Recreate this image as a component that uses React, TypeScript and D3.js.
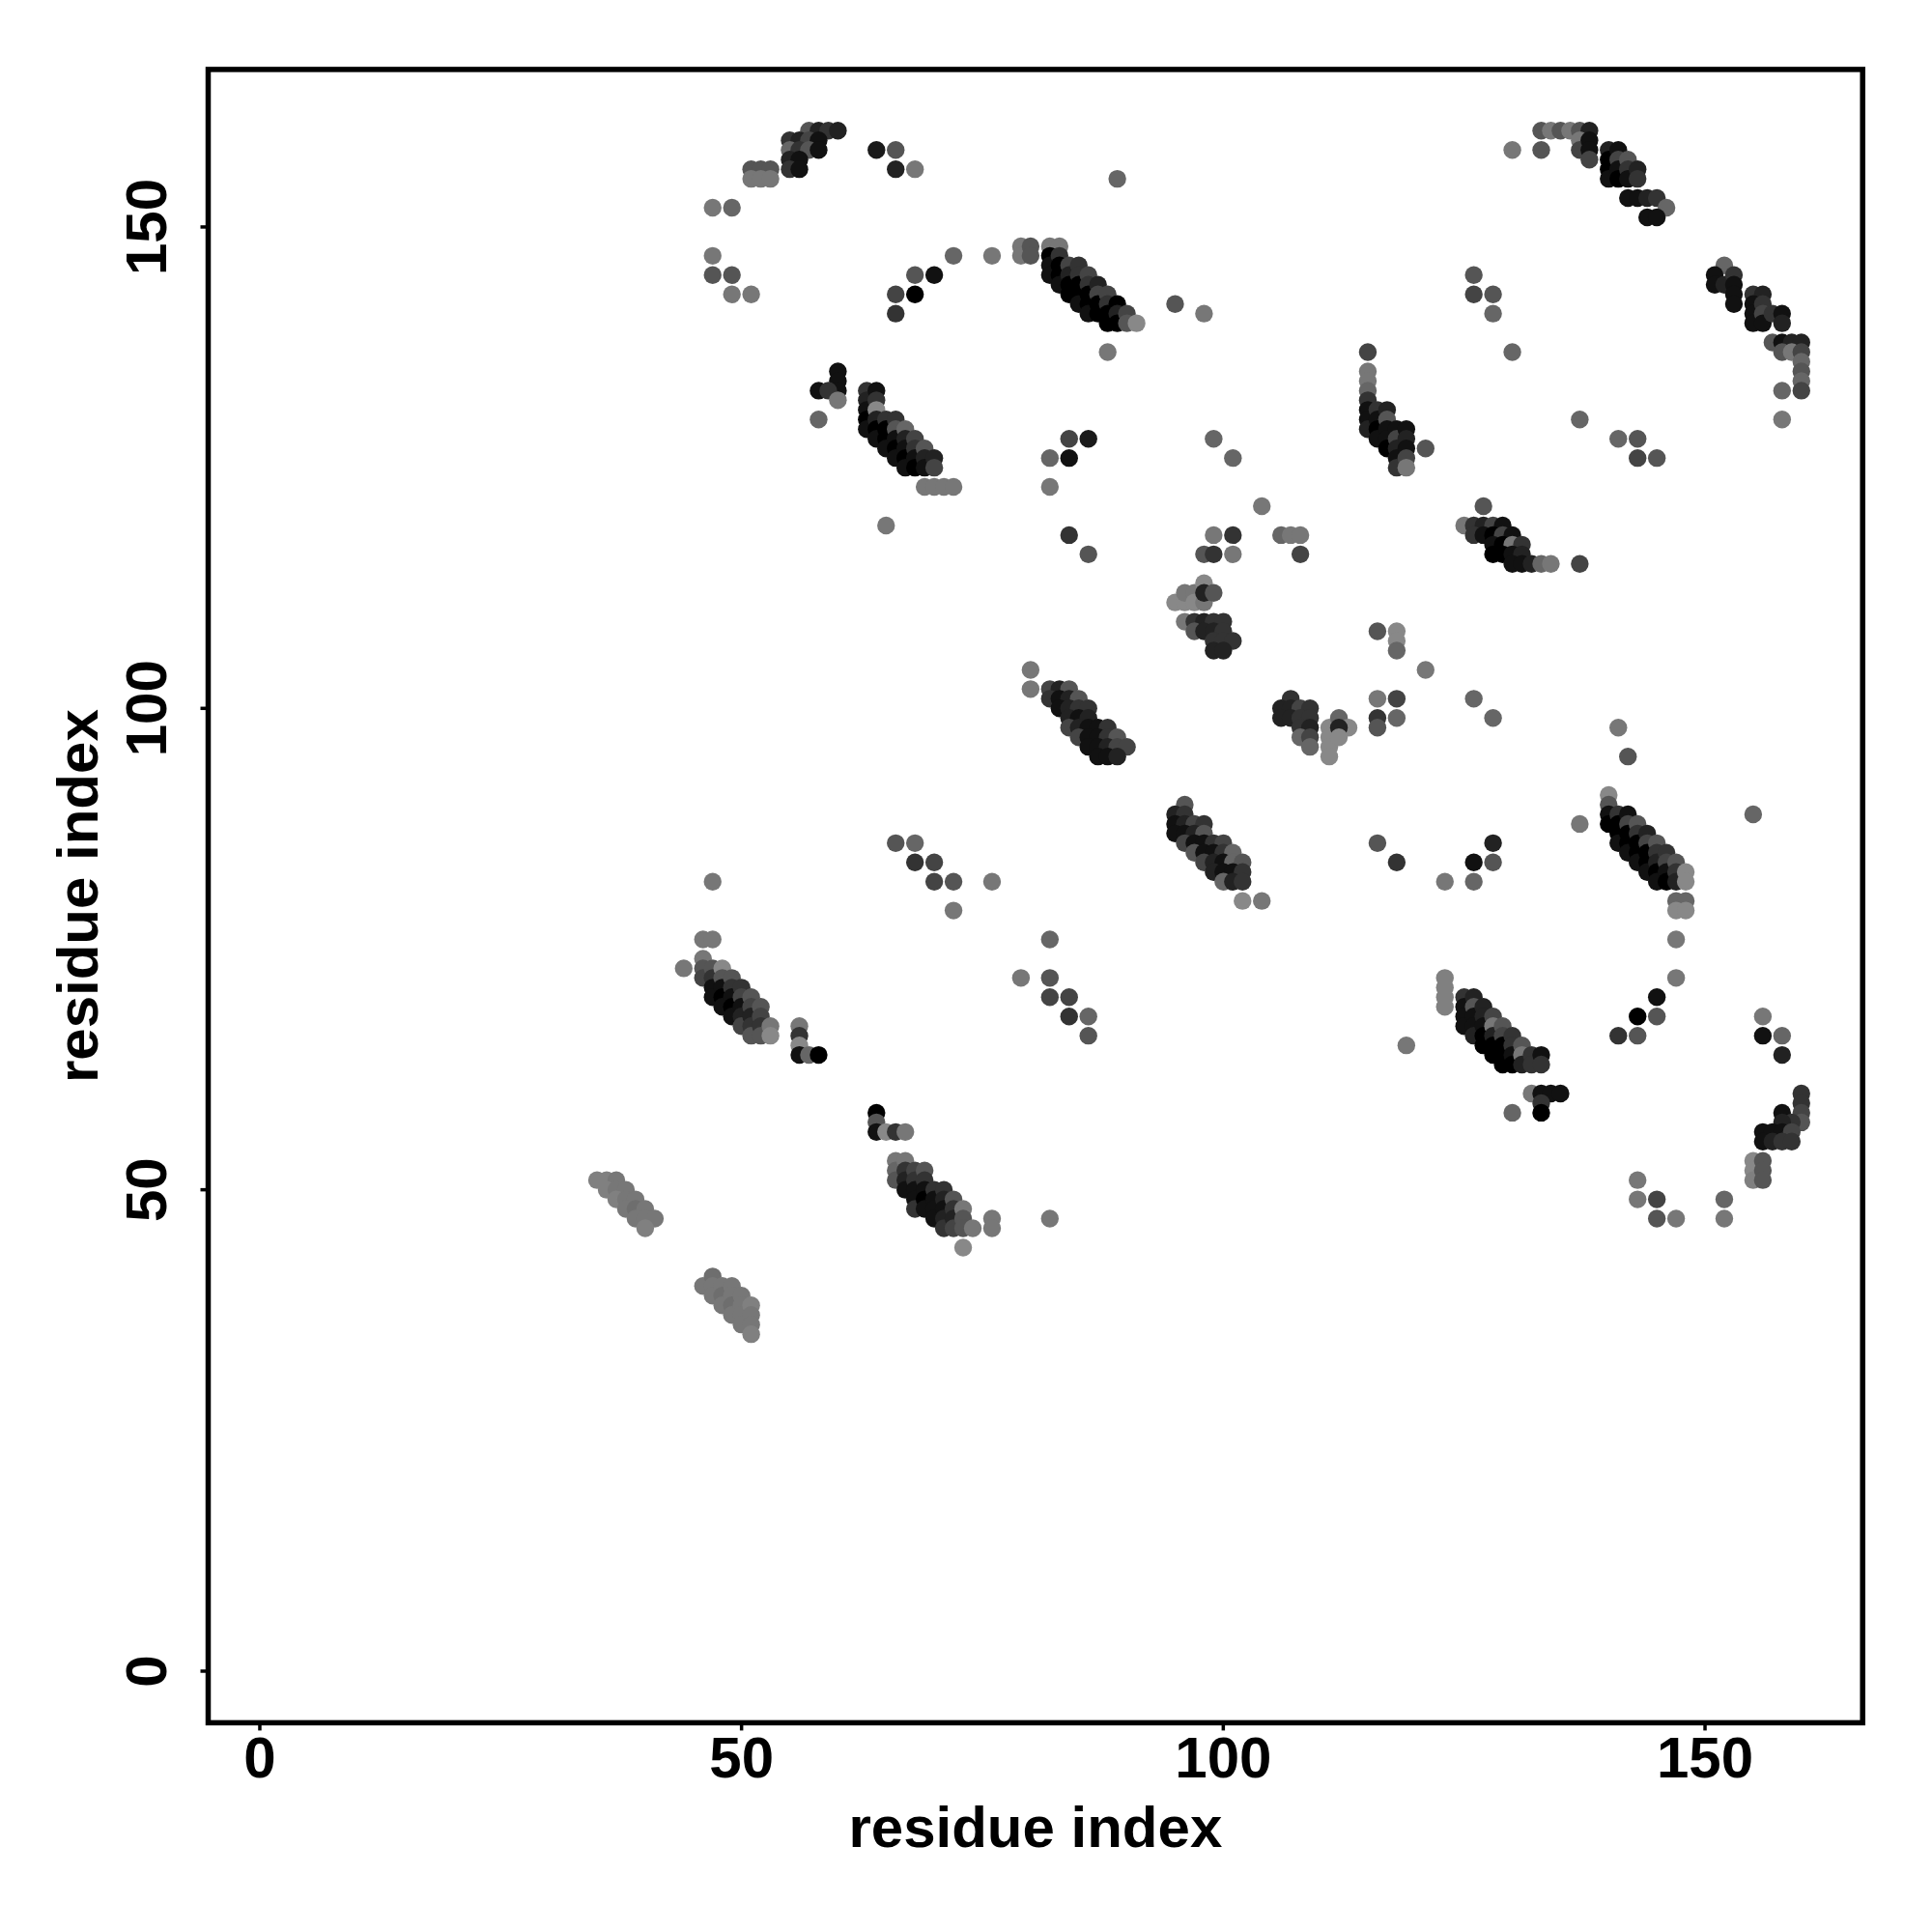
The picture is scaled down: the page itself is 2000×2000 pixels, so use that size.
import React from "react";
import * as d3 from "d3";

// [residue i, residue j, grey level 0-255]
type C = [number, number, number];

const topLeft: C[] = [
  [57,160,85],[58,160,34],[59,160,51],[60,160,34],
  [55,159,51],[56,159,34],[57,159,68],[58,159,17],
  [55,158,102],[56,158,51],[57,158,85],[58,158,17],
  [55,157,34],[56,157,17],
  [51,156,85],[52,156,85],[53,156,85],[55,156,51],[56,156,17],
  [51,155,119],[52,155,119],[53,155,119],
  [64,158,26],[66,158,85],[66,156,34],[68,156,119],
  [47,152,119],[49,152,102],
  [47,147,119],[47,145,85],[49,145,85],[49,143,119],[51,143,119],
  [72,147,102],[76,147,119],
  [68,145,85],[70,145,17],[66,143,68],[68,143,0],[66,141,51],
  [60,135,17],[60,134,17],[60,133,17],[58,133,17],[59,133,51],[60,132,119],[58,130,102],
];

const stripe63: C[] = [
  [63,133,51],[63,132,34],[63,131,17],[63,130,0],[63,129,17],
  [64,133,17],[64,132,51],[64,131,136],[64,130,34],[64,129,0],[64,128,17],
  [65,130,51],[65,129,0],[65,128,0],[65,127,17],
  [66,130,51],[66,129,85],[66,128,17],[66,127,0],[66,126,17],
  [67,129,102],[67,128,34],[67,127,17],[67,126,0],[67,125,17],
  [68,128,68],[68,127,51],[68,126,17],[68,125,0],
  [69,127,85],[69,126,34],[69,125,17],
  [70,126,34],[70,125,68],
  [69,123,119],[70,123,119],[71,123,119],[72,123,119],
];

const stripe82: C[] = [
  [89,155,102],
  [79,148,119],[79,147,119],[80,148,85],[80,147,85],[82,148,119],[83,148,119],
  [82,147,0],[82,146,17],[82,145,17],
  [83,147,51],[83,146,0],[83,145,0],[83,144,17],
  [84,146,68],[84,145,34],[84,144,0],[84,143,0],
  [85,146,51],[85,145,51],[85,144,0],[85,143,0],[85,142,17],
  [86,145,68],[86,144,51],[86,143,0],[86,142,0],[86,141,17],
  [87,144,34],[87,143,68],[87,142,0],[87,141,0],
  [88,143,68],[88,142,51],[88,141,0],[88,140,0],
  [89,142,0],[89,141,34],[89,140,0],
  [90,141,68],[90,140,85],
  [91,140,136],
  [95,142,85],[98,141,119],[88,137,119],[115,137,68],
];

const stripe115: C[] = [
  [115,135,119],[115,134,119],[115,133,102],[115,132,51],[115,131,17],[115,130,17],[115,129,34],
  [116,131,51],[116,130,17],[116,129,0],[116,128,17],
  [117,131,34],[117,130,85],[117,129,17],[117,128,17],[117,127,0],
  [118,129,17],[118,128,68],[118,127,34],[118,126,17],[118,125,51],
  [119,129,17],[119,128,34],[119,127,17],[119,126,68],[119,125,119],
  [121,127,85],
  [84,128,68],[86,128,26],[82,126,102],[84,126,17],[82,123,119],
  [99,128,102],[101,126,102],[104,121,119],
];

const topRight: C[] = [
  [133,160,85],[134,160,119],[135,160,85],[136,160,119],[137,160,85],[138,160,34],
  [130,158,119],[133,158,85],
  [137,159,119],[137,158,68],[138,159,17],[138,158,17],[138,157,68],
  [140,158,34],[140,157,0],[140,156,0],[140,155,17],
  [141,158,17],[141,157,68],[141,156,17],[141,155,0],
  [142,157,85],[142,156,51],[142,155,17],
  [143,156,34],[143,155,51],
  [142,153,17],[143,153,17],[144,153,34],[145,153,51],
  [146,152,102],[144,151,17],[145,151,17],
  [152,146,102],[151,145,17],[151,144,17],[152,144,34],[153,145,51],[153,144,17],[153,143,17],[153,142,17],
  [155,143,51],[156,143,34],[155,142,17],[155,141,17],[155,140,17],[156,142,51],[156,141,68],[156,140,17],
  [157,141,51],[158,141,17],[158,140,34],
  [157,138,85],[158,138,17],[159,138,34],[160,138,34],
  [158,137,85],[159,137,119],
  [160,137,68],[160,136,102],[160,135,85],[160,134,102],[160,133,68],
  [158,133,102],[158,130,119],
  [126,145,85],[126,143,68],[128,143,85],[128,141,102],[130,137,102],[137,130,102],
  [141,128,102],[143,128,85],[143,126,68],[145,126,85],[127,121,85],
];

const stripe125: C[] = [
  [125,119,119],[126,119,51],[127,119,34],[128,119,68],[129,119,17],
  [126,118,51],[127,118,17],[128,118,0],[129,118,68],[130,118,17],
  [128,117,17],[129,117,0],[130,117,119],[131,117,51],
  [128,116,0],[129,116,0],[130,116,17],[131,116,34],
  [130,115,17],[131,115,17],[132,115,34],[133,115,102],[134,115,119],[137,115,68],
  [121,104,119],[126,101,102],[128,99,102],[141,98,119],[142,95,85],[155,89,102],[137,88,119],
];

const stripe140: C[] = [
  [140,91,136],[140,90,85],[140,89,17],[140,88,0],
  [141,89,51],[141,88,0],[141,87,0],[141,86,17],
  [142,89,17],[142,88,68],[142,87,0],[142,86,0],[142,85,17],
  [143,88,85],[143,87,51],[143,86,0],[143,85,0],[143,84,17],
  [144,87,34],[144,86,68],[144,85,0],[144,84,0],[144,83,17],
  [145,86,85],[145,85,51],[145,84,34],[145,83,0],[145,82,17],
  [146,85,51],[146,84,68],[146,83,17],[146,82,0],
  [147,84,85],[147,83,51],[147,82,34],
  [148,83,136],[148,82,136],
  [147,80,102],[148,80,102],[147,79,136],[148,79,136],[147,76,119],
  [128,86,34],[126,84,17],[128,84,85],[123,82,119],[126,82,102],
];

const middle: C[] = [
  [65,119,119],[66,86,85],[68,86,102],[68,84,51],[70,84,68],[70,82,68],[72,82,85],[76,82,119],[72,79,119],[47,82,119],
  [84,118,51],[86,116,85],[99,118,119],[101,118,51],[98,116,85],[99,116,51],[101,116,119],
  [106,118,102],[107,118,119],[108,118,119],[108,116,68],
  [95,111,136],[96,111,136],[96,112,119],[97,112,119],[97,111,136],[98,113,136],[98,111,119],[98,112,34],[99,112,85],
  [96,109,119],[97,109,51],[98,109,34],[99,109,51],[100,109,51],
  [97,108,85],[98,108,34],[99,108,34],[100,108,51],
  [99,107,51],[100,107,51],[101,107,51],
  [99,106,34],[100,106,34],
  [116,108,85],[118,108,136],[118,107,136],[118,106,102],
  [80,104,119],[80,102,119],
  [82,102,68],[83,102,34],[84,102,85],
  [82,101,51],[83,101,17],[84,101,34],[85,101,85],
  [83,100,17],[84,100,34],[85,100,51],[86,100,51],
  [84,99,34],[85,99,17],[86,99,34],
  [84,98,68],[85,98,34],[86,98,17],[87,98,17],[88,98,51],
  [85,97,68],[86,97,17],[87,97,17],[88,97,51],[89,97,85],
  [86,96,17],[87,96,17],[88,96,34],[89,96,68],[90,96,68],
  [87,95,17],[88,95,17],[89,95,34],
  [107,101,51],[106,100,34],[107,100,34],[108,100,68],[109,100,51],
  [106,99,34],[107,99,34],[108,99,51],[109,99,51],
  [108,98,51],[109,98,34],[108,97,102],[109,97,68],[109,96,102],
  [111,98,136],[112,99,102],[113,98,136],[111,97,136],[111,96,136],[111,95,136],[112,98,34],[112,97,136],
  [116,101,119],[118,101,68],[116,99,51],[118,99,102],[116,98,85],
  [96,90,85],
  [95,89,34],[96,89,51],
  [95,88,17],[96,88,34],[97,88,68],[98,88,51],
  [95,87,17],[96,87,17],[97,87,34],[98,87,85],
  [96,86,68],[97,86,17],[98,86,17],[99,86,51],[100,86,68],
  [97,85,85],[98,85,17],[99,85,17],[100,85,51],[101,85,102],
  [98,84,68],[99,84,34],[100,84,17],[101,84,102],[102,84,85],
  [99,83,34],[100,83,17],[101,83,17],[102,83,51],
  [100,82,102],[101,82,34],[102,82,51],
  [102,80,136],[104,80,119],
  [116,86,85],[118,84,51],
];

const lowerLeft: C[] = [
  [46,76,119],[47,76,119],[44,73,119],
  [46,74,119],[46,73,85],[46,72,68],
  [47,73,85],[47,72,51],[47,71,17],[47,70,17],
  [48,73,136],[48,72,85],[48,71,17],[48,70,0],[48,69,17],
  [49,72,85],[49,71,51],[49,70,17],[49,69,0],[49,68,17],
  [50,71,51],[50,70,68],[50,69,17],[50,68,34],[50,67,68],
  [51,70,85],[51,69,68],[51,68,34],[51,67,51],[51,66,85],
  [52,69,85],[52,68,68],[52,67,51],[52,66,85],
  [53,67,119],[53,66,136],
  [56,67,119],[56,66,51],[56,65,136],[56,64,17],[57,64,102],[58,64,0],
  [64,58,0],[64,57,85],[64,56,17],[65,56,136],[66,56,51],[67,56,119],
  [66,53,119],[66,52,102],[66,51,85],
  [67,53,119],[67,52,51],[67,51,34],[67,50,17],
  [68,52,68],[68,51,51],[68,50,17],[68,49,17],[68,48,51],
  [69,52,85],[69,51,51],[69,50,17],[69,49,0],[69,48,17],
  [70,50,51],[70,49,17],[70,48,17],[70,47,17],
  [71,50,51],[71,49,34],[71,48,17],[71,47,34],[71,46,51],
  [72,49,85],[72,48,51],[72,47,34],[72,46,68],
  [73,48,119],[73,47,85],[73,46,85],
  [74,46,119],
  [73,44,136],[76,47,119],[76,46,119],
  [82,76,102],[79,72,119],[82,72,85],[82,70,68],[84,70,68],[84,68,51],[86,68,102],[86,66,85],[119,65,119],[82,47,119],
];

const lightStripes: C[] = [
  [35,51,128],[36,51,128],[37,51,119],[36,50,128],[37,50,119],[38,50,119],
  [37,49,128],[38,49,119],[39,49,119],[38,48,119],[39,48,110],[40,48,119],
  [39,47,119],[40,47,119],[41,47,119],[40,46,128],
  [46,40,119],[47,41,110],[47,40,119],[47,39,119],[48,40,119],[48,39,110],[48,38,119],
  [49,40,119],[49,39,119],[49,38,110],[49,37,119],[50,39,119],[50,38,119],[50,37,119],[50,36,119],
  [51,38,128],[51,37,119],[51,36,119],[51,35,128],
];

const lowerRight: C[] = [
  [147,72,119],[145,70,17],[143,68,0],[145,68,85],[141,66,51],[143,66,85],
  [123,72,128],[123,71,128],[123,70,128],[123,69,128],
  [125,70,51],[125,69,17],[125,68,17],[125,67,17],
  [126,70,34],[126,69,85],[126,68,17],[126,67,17],[126,66,34],
  [127,69,34],[127,68,34],[127,67,17],[127,66,0],[127,65,0],
  [128,68,68],[128,67,119],[128,66,34],[128,65,0],[128,64,0],
  [129,67,85],[129,66,68],[129,65,0],[129,64,0],[129,63,0],
  [130,66,51],[130,65,51],[130,64,17],[130,63,0],
  [131,65,85],[131,64,119],[131,63,34],
  [132,64,51],[132,63,51],
  [133,64,17],[133,63,51],
  [132,60,119],[133,60,17],[134,60,17],[135,60,17],[133,59,51],[133,58,0],[130,58,102],
  [160,60,51],[160,59,51],[160,58,68],[160,57,85],[158,58,17],[159,57,51],[158,57,34],
  [156,56,17],[157,56,17],[158,56,17],[159,56,68],[156,55,17],[157,55,34],[158,55,51],[159,55,51],
  [155,53,136],[155,52,136],[155,51,128],[156,53,85],[156,52,85],[156,51,85],
  [143,51,119],[143,49,119],[145,49,68],[145,47,85],[147,47,119],[152,49,102],[152,47,119],
  [156,68,119],[156,66,17],[158,66,102],[158,64,34],
];

const contacts: C[] = [
  ...lightStripes, ...topLeft, ...stripe63, ...stripe82, ...stripe115, ...topRight,
  ...stripe125, ...stripe140, ...middle, ...lowerLeft, ...lowerRight,
];

const ticks = [0, 50, 100, 150];
const axisTitle = "residue index";
const domainLo = -5.36;
const domainHi = 166.36;

export default function App() {
  const x = d3.scaleLinear().domain([domainLo, domainHi]).range([215.5, 1928.2]);
  const y = d3.scaleLinear().domain([domainLo, domainHi]).range([1783.4, 71.9]);
  const font = "'Liberation Sans', Arial, Helvetica, sans-serif";
  const [x0, x1] = x.range();
  const [y0, y1] = y.range();
  return (
    <svg width={2000} height={2000} style={{ position: "absolute", left: 0, top: 0, background: "#fff" }}>
      <rect x={0} y={0} width={2000} height={2000} fill="#fff" />
      {contacts.map(([i, j, g], k) => (
        <circle key={k} cx={x(i)} cy={y(j)} r={9.2} fill={`rgb(${g},${g},${g})`} />
      ))}
      <rect x={x0} y={y1} width={x1 - x0} height={y0 - y1} fill="none" stroke="#000" strokeWidth={5.5} />
      {ticks.map((t) => (
        <g key={"x" + t}>
          <line x1={x(t)} x2={x(t)} y1={y0} y2={y0 + 8} stroke="#000" strokeWidth={3.5} />
          <text x={x(t)} y={1840} textAnchor="middle" fontFamily={font} fontWeight={700} fontSize={60}>{t}</text>
        </g>
      ))}
      {ticks.map((t) => (
        <g key={"y" + t}>
          <line x1={x0 - 8} x2={x0} y1={y(t)} y2={y(t)} stroke="#000" strokeWidth={3.5} />
          <text transform={`translate(172,${y(t)}) rotate(-90)`} textAnchor="middle" fontFamily={font} fontWeight={700} fontSize={60}>{t}</text>
        </g>
      ))}
      <text x={(x0 + x1) / 2} y={1912} textAnchor="middle" fontFamily={font} fontWeight={700} fontSize={60}>{axisTitle}</text>
      <text transform={`translate(101,${(y0 + y1) / 2}) rotate(-90)`} textAnchor="middle" fontFamily={font} fontWeight={700} fontSize={60}>{axisTitle}</text>
    </svg>
  );
}
